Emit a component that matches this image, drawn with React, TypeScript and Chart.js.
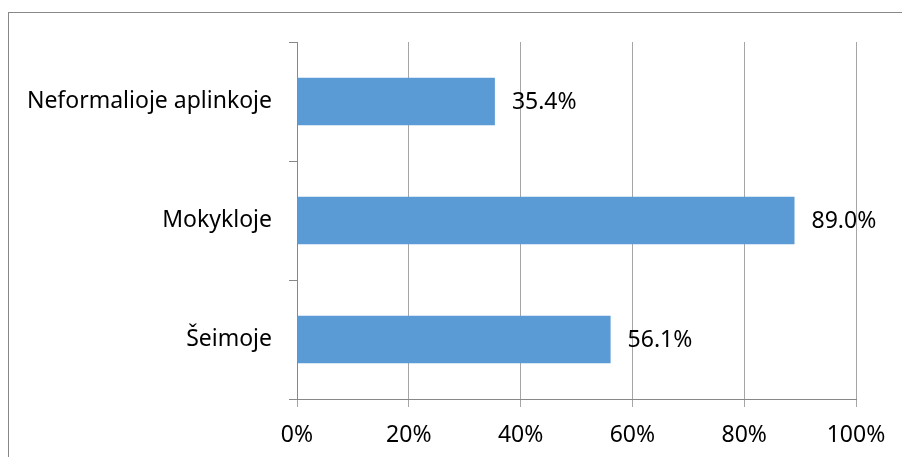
import React, { useEffect, useRef } from "react";
import { Chart, registerables } from "chart.js";

Chart.register(...registerables);

const categories = ["Neformalioje aplinkoje", "Mokykloje", "Šeimoje"];
const values = [35.4, 89.0, 56.1];
const xTicks = [0, 20, 40, 60, 80, 100];

const FONT = "'Noto Sans', sans-serif";
const FONT_SIZE = 23;

const valueLabels = {
  id: "valueLabels",
  afterDatasetsDraw(chart: any) {
    const ctx = chart.ctx;
    const meta = chart.getDatasetMeta(0);
    ctx.save();
    ctx.font = `${FONT_SIZE}px ${FONT}`;
    ctx.fillStyle = "#000000";
    ctx.textAlign = "left";
    ctx.textBaseline = "middle";
    meta.data.forEach((bar: any, i: number) => {
      const v = chart.data.datasets[0].data[i];
      ctx.fillText(v.toFixed(1) + "%", bar.x + 17, bar.y + 1);
    });
    ctx.restore();
  },
};

export default function App() {
  const ref = useRef<HTMLCanvasElement | null>(null);

  useEffect(() => {
    if (!ref.current) return;
    const chart = new Chart(ref.current, {
      type: "bar",
      data: {
        labels: categories,
        datasets: [
          {
            data: values,
            backgroundColor: "#5B9BD5",
            borderWidth: 0,
            barPercentage: 0.4,
            categoryPercentage: 1,
          },
        ],
      },
      options: {
        indexAxis: "y",
        animation: false,
        responsive: false,
        maintainAspectRatio: false,
        layout: { padding: { top: 42, right: 46, left: 0, bottom: 0 } },
        plugins: {
          legend: { display: false },
          tooltip: { enabled: false },
        },
        scales: {
          x: {
            min: 0,
            max: 100,
            afterBuildTicks(scale: any) {
              scale.ticks = xTicks.map((v) => ({ value: v }));
            },
            afterFit(scale: any) {
              scale.height = 58;
            },
            grid: {
              color: "#a6a6a6",
              lineWidth: 1,
              tickLength: 8,
              drawTicks: true,
            },
            border: { display: true, color: "#888888", width: 1 },
            ticks: {
              color: "#000000",
              font: { family: FONT, size: FONT_SIZE },
              padding: 15,
              callback: (v: any) => v + "%",
              maxRotation: 0,
            },
          },
          y: {
            afterFit(scale: any) {
              scale.width = 297;
            },
            grid: {
              offset: true,
              drawOnChartArea: false,
              drawTicks: true,
              tickLength: 8,
              color: "#888888",
            },
            border: { display: true, color: "#888888", width: 1 },
            ticks: {
              color: "#000000",
              font: { family: FONT, size: FONT_SIZE },
              padding: 17,
            },
          },
        },
      },
      plugins: [valueLabels],
    });
    return () => chart.destroy();
  }, []);

  return (
    <div style={{ position: "absolute", left: 0, top: 0, width: 902, height: 457, overflow: "hidden" }}>
      <div
        style={{
          position: "absolute",
          left: 8,
          top: 12,
          width: 894,
          height: 445,
          borderLeft: "1px solid #888888",
          borderTop: "1px solid #888888",
          boxSizing: "border-box",
        }}
      />
      <canvas ref={ref} width={902} height={457} style={{ position: "absolute", left: 0, top: 0, width: 902, height: 457 }} />
    </div>
  );
}
